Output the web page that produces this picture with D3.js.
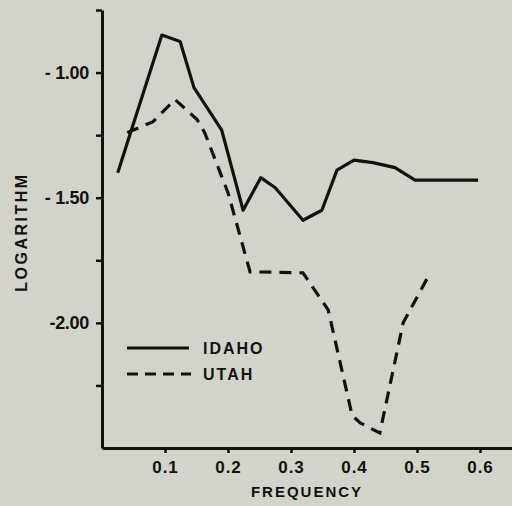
<!DOCTYPE html>
<html>
<head>
<meta charset="utf-8">
<script src="https://cdn.jsdelivr.net/npm/d3@7"></script>
<style>
  body { margin: 0; background: #d3d4c9; }
  svg { display: block; }
  text { font-family: "Liberation Sans", Arial, sans-serif; font-weight: bold; fill: #111; }
</style>
</head>
<body>
<svg></svg>
<script>
// spectra
var idahoFreq = [0.025, 0.095, 0.124, 0.146, 0.19, 0.224, 0.252, 0.275, 0.319, 0.349, 0.373, 0.40, 0.43, 0.465, 0.497, 0.597];
var idahoLog  = [-1.40, -0.85, -0.876, -1.06, -1.23, -1.55, -1.42, -1.46, -1.59, -1.55, -1.39, -1.35, -1.36, -1.38, -1.43, -1.43];

var utahFreq = [0.040, 0.081, 0.116, 0.151, 0.163, 0.200, 0.235, 0.319, 0.359, 0.397, 0.410, 0.441, 0.478, 0.521];
var utahLog  = [-1.24, -1.196, -1.108, -1.188, -1.24, -1.48, -1.796, -1.80, -1.948, -2.37, -2.40, -2.44, -2.00, -1.80];

var xTicks = [0.1, 0.2, 0.3, 0.4, 0.5, 0.6];
var yTicks = [-0.75, -1.00, -1.25, -1.50, -1.75, -2.00, -2.25];
var yLabels = {"-1": "- 1.00", "-1.5": "- 1.50", "-2": "-2.00"};

var svgWidth = 512, svgHeight = 506;
var ink = "#111";

var svg = d3.select("svg")
    .attr("width", svgWidth)
    .attr("height", svgHeight);

var x = d3.scaleLinear().domain([0, 0.65]).range([102, 511.5]);
var y = d3.scaleLinear().domain([-2.5, -0.75]).range([448, 10]);

// y axis
var yAxis = svg.append("g")
    .attr("transform", "translate(" + x(0) + ",0)")
    .call(d3.axisLeft(y)
        .tickValues(yTicks)
        .tickSize(6)
        .tickSizeOuter(0)
        .tickPadding(7)
        .tickFormat(function (d) { return yLabels[String(d)] || ""; }));

// x axis
var xAxis = svg.append("g")
    .attr("transform", "translate(0," + y(-2.5) + ")")
    .call(d3.axisBottom(x)
        .tickValues(xTicks)
        .tickSize(5)
        .tickSizeOuter(0)
        .tickPadding(8)
        .tickFormat(d3.format(".1f")));

svg.selectAll(".domain").attr("stroke", ink).attr("stroke-width", 3);
svg.selectAll(".tick line").attr("stroke", ink).attr("stroke-width", 2.5);
yAxis.selectAll("text").style("font-size", "18px").style("letter-spacing", "-0.3px");
xAxis.selectAll("text").style("font-size", "17px").style("letter-spacing", "1px");

// axis titles
svg.append("text")
    .attr("x", 307).attr("y", 497)
    .attr("text-anchor", "middle")
    .style("font-size", "15px")
    .style("letter-spacing", "2px")
    .text("FREQUENCY");

svg.append("text")
    .attr("transform", "translate(27,232) rotate(-90)")
    .attr("text-anchor", "middle")
    .style("font-size", "16px")
    .style("letter-spacing", "2.5px")
    .text("LOGARITHM");

// lines
var line = d3.line()
    .x(function (d) { return x(d[0]); })
    .y(function (d) { return y(d[1]); });

svg.append("path")
    .datum(d3.zip(idahoFreq, idahoLog))
    .attr("d", line)
    .attr("fill", "none")
    .attr("stroke", ink)
    .attr("stroke-width", 3.2)
    .attr("stroke-linejoin", "round");

svg.append("path")
    .datum(d3.zip(utahFreq, utahLog))
    .attr("d", line)
    .attr("fill", "none")
    .attr("stroke", ink)
    .attr("stroke-width", 3.2)
    .attr("stroke-dasharray", "12,8");

// legend
var legend = svg.append("g");
legend.append("line")
    .attr("x1", 127).attr("x2", 189).attr("y1", 348).attr("y2", 348)
    .attr("stroke", ink).attr("stroke-width", 3);
legend.append("line")
    .attr("x1", 127).attr("x2", 191).attr("y1", 374).attr("y2", 374)
    .attr("stroke", ink).attr("stroke-width", 3)
    .attr("stroke-dasharray", "11,7");
legend.append("text")
    .attr("x", 203).attr("y", 354)
    .style("font-size", "16px").style("letter-spacing", "2px")
    .text("IDAHO");
legend.append("text")
    .attr("x", 203).attr("y", 380)
    .style("font-size", "16px").style("letter-spacing", "2px")
    .text("UTAH");
</script>
</body>
</html>
